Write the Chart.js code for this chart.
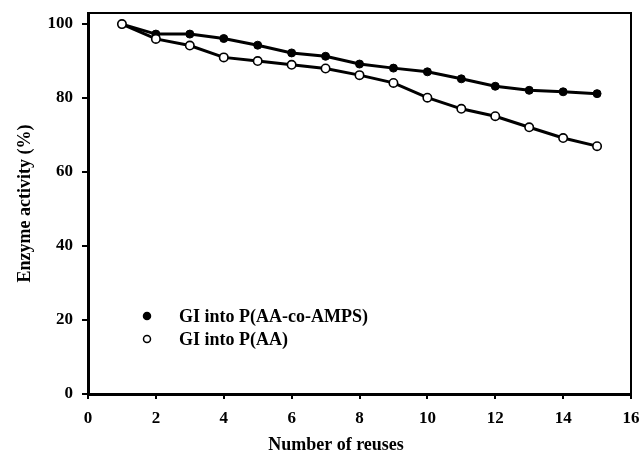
<!DOCTYPE html>
<html>
<head>
<meta charset="utf-8">
<script src="https://cdn.jsdelivr.net/npm/chart.js@4.4.1/dist/chart.umd.min.js"></script>
<style>
  html, body { margin: 0; padding: 0; background: #fff; }
  #wrap { width: 641px; height: 453px; }
</style>
</head>
<body>
<div id="wrap"><canvas id="reuseChart" width="641" height="453"></canvas></div>
<script>
// Reuse cycles and enzyme activity (%)
const reuses = [1, 2, 3, 4, 5, 6, 7, 8, 9, 10, 11, 12, 13, 14, 15];
const copolymerActivity = [100, 97.3, 97.3, 96.1, 94.3, 92.2, 91.3, 89.2, 88.1, 87.1, 85.2, 83.2, 82.1, 81.7, 81.2];
const homopolymerActivity = [100, 96.0, 94.2, 91.0, 90.0, 89.0, 88.0, 86.2, 84.1, 80.1, 77.1, 75.1, 72.1, 69.2, 67.0];
const seriesLabels = ['GI into P(AA-co-AMPS)', 'GI into P(AA)'];
const xTicks = [0, 2, 4, 6, 8, 10, 12, 14, 16];
const yTicks = [0, 20, 40, 60, 80, 100];

const FONT = "'Liberation Serif', 'Times New Roman', serif";

Chart.defaults.font.family = FONT;
Chart.defaults.font.weight = 'bold';
Chart.defaults.color = '#000';

const toPoints = (vals) => vals.map((v, i) => ({ x: reuses[i], y: v }));

// scales shouldn't push the plot inwards for label overhang
const noOverhang = (axis) => {
  axis.paddingTop = 0;
  axis.paddingBottom = 0;
  axis.paddingLeft = 0;
  axis.paddingRight = 0;
};

// box around the plot, legend inside it, and the x title
const frameAndLegend = {
  id: 'frameAndLegend',
  beforeDatasetsDraw(chart) {
    const { ctx, chartArea: a } = chart;
    ctx.save();
    ctx.strokeStyle = '#000';
    ctx.lineWidth = 2;
    ctx.strokeRect(a.left, a.top, a.right - a.left, a.bottom - a.top);
    ctx.restore();
  },
  afterDraw(chart) {
    const { ctx } = chart;
    ctx.save();
    const rows = [
      { y: 316, fill: '#000' },
      { y: 339, fill: '#fff' }
    ];
    ctx.font = 'bold 18px ' + FONT;
    ctx.textBaseline = 'middle';
    rows.forEach((r, i) => {
      ctx.beginPath();
      ctx.arc(147, r.y, 3.5, 0, Math.PI * 2);
      ctx.fillStyle = r.fill;
      ctx.fill();
      ctx.lineWidth = 1.5;
      ctx.strokeStyle = '#000';
      ctx.stroke();
      ctx.fillStyle = '#000';
      ctx.fillText(seriesLabels[i], 179, r.y + 1);
    });
    ctx.textAlign = 'center';
    ctx.fillText('Number of reuses', 336, 445);
    ctx.restore();
  }
};

const ctx = document.getElementById('reuseChart').getContext('2d');
new Chart(ctx, {
  type: 'line',
  data: {
    datasets: [
      {
        label: seriesLabels[0],
        data: toPoints(copolymerActivity),
        borderColor: '#000',
        borderWidth: 3,
        pointRadius: 4,
        pointBackgroundColor: '#000',
        pointBorderColor: '#000',
        pointBorderWidth: 1,
        tension: 0,
        order: 1
      },
      {
        label: seriesLabels[1],
        data: toPoints(homopolymerActivity),
        borderColor: '#000',
        borderWidth: 3,
        pointRadius: 4.2,
        pointBackgroundColor: '#fff',
        pointBorderColor: '#000',
        pointBorderWidth: 1.6,
        tension: 0,
        order: 0
      }
    ]
  },
  options: {
    responsive: false,
    animation: false,
    layout: { padding: { top: 13, right: 10, bottom: 0, left: 0 } },
    plugins: {
      legend: { display: false },
      tooltip: { enabled: false }
    },
    scales: {
      x: {
        type: 'linear',
        min: 0,
        max: 16,
        afterBuildTicks: (axis) => { axis.ticks = xTicks.map(v => ({ value: v })); },
        afterFit: (axis) => { axis.height = 59; noOverhang(axis); },
        border: { display: true, color: '#000', width: 3 },
        grid: { display: true, drawOnChartArea: false, drawTicks: true, tickLength: 5, color: '#000', lineWidth: 2 },
        ticks: { font: { size: 17, weight: 'bold' }, padding: 9, maxRotation: 0 }
      },
      y: {
        type: 'linear',
        min: 0,
        max: 103,
        afterBuildTicks: (axis) => { axis.ticks = yTicks.map(v => ({ value: v })); },
        afterFit: (axis) => { axis.width = 88; noOverhang(axis); },
        border: { display: true, color: '#000', width: 3 },
        grid: { display: true, drawOnChartArea: false, drawTicks: true, tickLength: 6, color: '#000', lineWidth: 2 },
        ticks: { font: { size: 17, weight: 'bold' }, padding: 9 },
        title: {
          display: true,
          text: 'Enzyme activity (%)',
          font: { size: 18, weight: 'bold' },
          padding: { top: 15, bottom: 0 }
        }
      }
    }
  },
  plugins: [frameAndLegend]
});
</script>
</body>
</html>
